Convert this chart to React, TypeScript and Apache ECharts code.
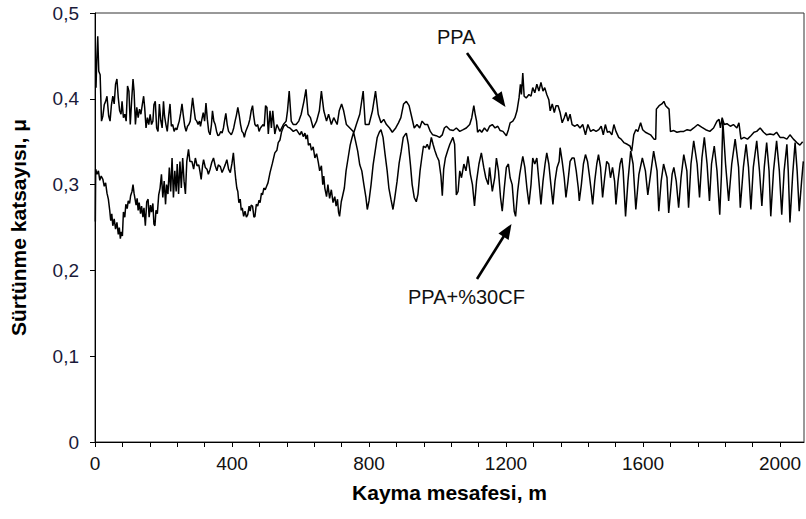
import React, { useEffect, useRef } from "react";
import * as echarts from "echarts";

// Sliding distance (m) and friction coefficient
const ppaPoints: [number, number][] = [
  [3, 0.413], [5, 0.444], [8, 0.473], [11, 0.432], [15, 0.428], [19, 0.374], [23, 0.380], [27, 0.393], [31, 0.397], [35, 0.403],
  [40, 0.380], [44, 0.374], [48, 0.393], [52, 0.403], [56, 0.394], [60, 0.417], [64, 0.423], [68, 0.401], [72, 0.386], [76, 0.382],
  [79, 0.397], [83, 0.378], [87, 0.382], [91, 0.374], [95, 0.415], [99, 0.409], [103, 0.370], [107, 0.398], [111, 0.423], [114, 0.409],
  [118, 0.370], [122, 0.390], [126, 0.378], [130, 0.388], [134, 0.382], [138, 0.393], [142, 0.403], [145, 0.390], [149, 0.366], [153, 0.378],
  [157, 0.370], [161, 0.382], [165, 0.370], [169, 0.374], [172, 0.393], [176, 0.397], [180, 0.366], [184, 0.362], [188, 0.394], [192, 0.375],
  [196, 0.366], [200, 0.397], [203, 0.380], [207, 0.370], [211, 0.362], [215, 0.380], [219, 0.394], [223, 0.368], [227, 0.370], [231, 0.362],
  [235, 0.366], [239, 0.364], [243, 0.370], [246, 0.374], [250, 0.383], [254, 0.394], [258, 0.380], [262, 0.368], [266, 0.362], [270, 0.368],
  [274, 0.370], [278, 0.374], [281, 0.386], [285, 0.401], [289, 0.388], [293, 0.376], [297, 0.374], [301, 0.370], [305, 0.374], [308, 0.368],
  [312, 0.376], [316, 0.384], [320, 0.374], [324, 0.395], [328, 0.376], [332, 0.362], [336, 0.358], [340, 0.370], [343, 0.386], [347, 0.374],
  [351, 0.370], [355, 0.362], [359, 0.357], [363, 0.358], [367, 0.362], [371, 0.360], [375, 0.366], [378, 0.374], [382, 0.383], [386, 0.370],
  [390, 0.362], [394, 0.360], [398, 0.358], [402, 0.362], [405, 0.366], [409, 0.374], [413, 0.381], [417, 0.390], [421, 0.381], [425, 0.370],
  [429, 0.362], [433, 0.360], [436, 0.355], [440, 0.362], [444, 0.366], [448, 0.370], [452, 0.376], [456, 0.386], [460, 0.392], [463, 0.381],
  [467, 0.370], [471, 0.368], [475, 0.370], [479, 0.362], [483, 0.366], [487, 0.368], [491, 0.370], [494, 0.368], [498, 0.392], [502, 0.390],
  [506, 0.359], [511, 0.386], [515, 0.366], [519, 0.386], [525, 0.359], [531, 0.370], [540, 0.362], [550, 0.370], [558, 0.374], [562, 0.386],
  [567, 0.409], [573, 0.374], [579, 0.370], [587, 0.370], [595, 0.374], [602, 0.382], [610, 0.397], [616, 0.411], [622, 0.382], [629, 0.378],
  [637, 0.366], [647, 0.374], [655, 0.386], [661, 0.409], [668, 0.386], [676, 0.374], [682, 0.382], [690, 0.370], [697, 0.378], [707, 0.370],
  [713, 0.386], [720, 0.394], [726, 0.386], [734, 0.370], [744, 0.366], [756, 0.361], [763, 0.370], [773, 0.382], [783, 0.409], [789, 0.370],
  [800, 0.370], [810, 0.386], [819, 0.409], [827, 0.382], [835, 0.372], [843, 0.376], [851, 0.370], [860, 0.366], [868, 0.361], [878, 0.366],
  [886, 0.372], [893, 0.378], [901, 0.394], [909, 0.397], [917, 0.392], [924, 0.380], [932, 0.366], [940, 0.370], [948, 0.366], [955, 0.374],
  [963, 0.370], [971, 0.370], [979, 0.362], [986, 0.358], [996, 0.357], [1006, 0.355], [1014, 0.358], [1020, 0.366], [1026, 0.368], [1036, 0.364],
  [1046, 0.363], [1055, 0.366], [1065, 0.362], [1075, 0.364], [1084, 0.366], [1094, 0.370], [1100, 0.378], [1106, 0.392], [1110, 0.382], [1114, 0.374],
  [1117, 0.361], [1123, 0.364], [1129, 0.361], [1137, 0.366], [1145, 0.362], [1152, 0.368], [1160, 0.370], [1168, 0.366], [1176, 0.368], [1183, 0.363],
  [1191, 0.362], [1201, 0.357], [1207, 0.364], [1212, 0.372], [1220, 0.374], [1226, 0.378], [1232, 0.386], [1238, 0.401], [1242, 0.417], [1245, 0.405],
  [1249, 0.430], [1253, 0.403], [1259, 0.401], [1267, 0.405], [1273, 0.403], [1278, 0.413], [1284, 0.407], [1290, 0.417], [1296, 0.409], [1302, 0.419],
  [1308, 0.409], [1313, 0.413], [1319, 0.405], [1325, 0.399], [1329, 0.386], [1335, 0.394], [1341, 0.384], [1346, 0.392], [1352, 0.392], [1358, 0.384],
  [1364, 0.372], [1370, 0.378], [1375, 0.384], [1381, 0.374], [1387, 0.382], [1393, 0.370], [1401, 0.368], [1408, 0.370], [1416, 0.366], [1424, 0.370],
  [1432, 0.358], [1439, 0.370], [1447, 0.362], [1455, 0.364], [1463, 0.362], [1471, 0.364], [1478, 0.368], [1484, 0.358], [1490, 0.370], [1496, 0.361],
  [1502, 0.362], [1509, 0.358], [1515, 0.370], [1521, 0.362], [1529, 0.355], [1536, 0.353], [1544, 0.349], [1554, 0.347], [1562, 0.345], [1567, 0.339],
  [1573, 0.358], [1579, 0.364], [1585, 0.362], [1593, 0.372], [1599, 0.364], [1607, 0.361], [1622, 0.358], [1632, 0.353], [1637, 0.353], [1639, 0.388],
  [1647, 0.392], [1655, 0.394], [1661, 0.397], [1666, 0.392], [1676, 0.388], [1680, 0.362], [1690, 0.363], [1699, 0.361], [1709, 0.362], [1719, 0.362],
  [1729, 0.364], [1738, 0.363], [1748, 0.366], [1760, 0.370], [1771, 0.367], [1783, 0.364], [1795, 0.362], [1806, 0.366], [1816, 0.374], [1822, 0.376],
  [1826, 0.366], [1831, 0.378], [1837, 0.370], [1845, 0.371], [1855, 0.368], [1864, 0.370], [1874, 0.366], [1880, 0.372], [1886, 0.353], [1895, 0.355],
  [1905, 0.353], [1915, 0.357], [1924, 0.361], [1932, 0.362], [1942, 0.366], [1952, 0.361], [1961, 0.358], [1971, 0.359], [1981, 0.358], [1990, 0.361],
  [2000, 0.355], [2010, 0.355], [2020, 0.353], [2029, 0.358], [2039, 0.353], [2049, 0.349], [2058, 0.346], [2066, 0.350],
];

const cfPoints: [number, number][] = [
  [1, 0.257], [2, 0.318], [6, 0.312], [10, 0.316], [14, 0.305], [18, 0.310], [23, 0.306], [27, 0.298], [31, 0.302], [35, 0.290],
  [39, 0.283], [43, 0.270], [46, 0.258], [49, 0.266], [52, 0.252], [56, 0.260], [60, 0.248], [64, 0.256], [68, 0.242], [71, 0.250],
  [74, 0.237], [77, 0.245], [80, 0.240], [83, 0.268], [87, 0.262], [90, 0.277], [94, 0.272], [97, 0.281], [101, 0.278], [104, 0.287],
  [108, 0.292], [111, 0.300], [114, 0.290], [117, 0.283], [120, 0.276], [123, 0.284], [126, 0.270], [129, 0.279], [133, 0.266], [136, 0.275],
  [140, 0.262], [143, 0.273], [147, 0.252], [151, 0.280], [155, 0.283], [158, 0.262], [162, 0.276], [165, 0.268], [169, 0.278], [172, 0.254],
  [175, 0.252], [178, 0.270], [182, 0.266], [186, 0.288], [190, 0.296], [194, 0.312], [198, 0.285], [202, 0.304], [206, 0.277], [209, 0.300],
  [213, 0.289], [217, 0.320], [221, 0.292], [225, 0.331], [229, 0.285], [233, 0.316], [237, 0.292], [240, 0.324], [244, 0.289], [248, 0.327],
  [252, 0.296], [256, 0.331], [260, 0.304], [264, 0.289], [268, 0.327], [273, 0.341], [277, 0.327], [283, 0.327], [288, 0.318], [293, 0.331],
  [298, 0.322], [303, 0.323], [307, 0.314], [310, 0.306], [314, 0.322], [317, 0.329], [322, 0.320], [327, 0.318], [331, 0.312], [336, 0.318],
  [341, 0.326], [346, 0.331], [351, 0.322], [356, 0.316], [360, 0.323], [366, 0.321], [371, 0.314], [375, 0.318], [380, 0.323], [385, 0.329],
  [390, 0.318], [395, 0.314], [400, 0.325], [404, 0.337], [408, 0.318], [411, 0.306], [414, 0.296], [417, 0.292], [420, 0.279], [424, 0.283],
  [427, 0.270], [430, 0.273], [434, 0.263], [438, 0.269], [442, 0.262], [446, 0.265], [450, 0.275], [453, 0.269], [456, 0.276], [460, 0.275],
  [464, 0.262], [467, 0.263], [471, 0.277], [475, 0.275], [479, 0.282], [482, 0.279], [486, 0.290], [489, 0.288], [493, 0.296], [497, 0.294],
  [501, 0.298], [505, 0.302], [511, 0.314], [518, 0.325], [525, 0.337], [531, 0.340], [535, 0.349], [540, 0.352], [545, 0.362], [551, 0.368],
  [557, 0.370], [563, 0.367], [569, 0.366], [579, 0.362], [588, 0.364], [598, 0.358], [603, 0.362], [608, 0.356], [613, 0.360], [616, 0.353],
  [620, 0.358], [623, 0.346], [628, 0.348], [632, 0.340], [637, 0.344], [642, 0.331], [647, 0.336], [652, 0.326], [656, 0.316], [661, 0.322],
  [665, 0.300], [668, 0.310], [671, 0.296], [676, 0.286], [680, 0.300], [685, 0.284], [690, 0.294], [695, 0.279], [700, 0.286], [704, 0.275],
  [708, 0.283], [711, 0.268], [714, 0.263], [719, 0.280], [723, 0.287], [728, 0.296], [733, 0.316], [739, 0.331], [745, 0.346], [750, 0.354],
  [755, 0.361], [761, 0.350], [767, 0.339], [773, 0.323], [779, 0.316], [785, 0.300], [791, 0.285], [795, 0.271], [800, 0.281], [806, 0.300],
  [812, 0.323], [818, 0.339], [824, 0.355], [830, 0.361], [835, 0.364], [841, 0.355], [847, 0.335], [853, 0.316], [858, 0.296], [864, 0.283],
  [870, 0.271], [875, 0.284], [882, 0.304], [888, 0.325], [894, 0.339], [900, 0.355], [905, 0.358], [909, 0.360], [915, 0.347], [921, 0.323],
  [926, 0.300], [932, 0.285], [938, 0.280], [943, 0.289], [949, 0.316], [954, 0.331], [959, 0.345], [965, 0.343], [970, 0.347], [976, 0.341],
  [982, 0.355], [987, 0.347], [992, 0.340], [998, 0.333], [1004, 0.328], [1010, 0.310], [1014, 0.287], [1018, 0.318], [1023, 0.331], [1030, 0.340],
  [1036, 0.347], [1045, 0.355], [1050, 0.347], [1055, 0.288], [1060, 0.292], [1065, 0.316], [1070, 0.308], [1077, 0.324], [1083, 0.316], [1089, 0.333],
  [1096, 0.312], [1102, 0.300], [1108, 0.275], [1114, 0.304], [1121, 0.324], [1128, 0.337], [1135, 0.320], [1141, 0.308], [1148, 0.300], [1152, 0.320],
  [1160, 0.292], [1167, 0.308], [1172, 0.331], [1178, 0.316], [1184, 0.285], [1189, 0.269], [1195, 0.296], [1201, 0.320], [1207, 0.324], [1212, 0.308],
  [1218, 0.300], [1224, 0.269], [1228, 0.263], [1234, 0.292], [1240, 0.312], [1245, 0.324], [1249, 0.333], [1255, 0.320], [1261, 0.296], [1267, 0.277],
  [1273, 0.300], [1278, 0.331], [1284, 0.324], [1290, 0.331], [1296, 0.304], [1302, 0.277], [1308, 0.304], [1314, 0.324], [1319, 0.337], [1325, 0.324],
  [1331, 0.300], [1337, 0.277], [1343, 0.304], [1349, 0.320], [1355, 0.327], [1358, 0.343], [1364, 0.327], [1370, 0.308], [1375, 0.285], [1381, 0.304],
  [1387, 0.327], [1393, 0.331], [1399, 0.331], [1405, 0.316], [1411, 0.296], [1414, 0.281], [1420, 0.300], [1426, 0.324], [1432, 0.335], [1438, 0.327],
  [1443, 0.312], [1449, 0.292], [1453, 0.277], [1459, 0.304], [1465, 0.324], [1470, 0.335], [1476, 0.320], [1482, 0.285], [1488, 0.308], [1494, 0.327],
  [1500, 0.324], [1505, 0.308], [1511, 0.320], [1517, 0.304], [1521, 0.277], [1527, 0.304], [1533, 0.324], [1538, 0.331], [1542, 0.316], [1549, 0.263],
  [1556, 0.304], [1564, 0.339], [1571, 0.324], [1579, 0.271], [1588, 0.312], [1598, 0.331], [1607, 0.316], [1614, 0.288], [1622, 0.312], [1631, 0.339],
  [1641, 0.316], [1646, 0.269], [1653, 0.304], [1660, 0.324], [1670, 0.308], [1675, 0.267], [1685, 0.312], [1690, 0.320], [1697, 0.304], [1704, 0.273],
  [1711, 0.308], [1719, 0.335], [1728, 0.316], [1733, 0.273], [1740, 0.324], [1748, 0.351], [1758, 0.324], [1765, 0.285], [1772, 0.331], [1779, 0.355],
  [1787, 0.324], [1794, 0.281], [1800, 0.324], [1808, 0.345], [1816, 0.316], [1824, 0.265], [1829, 0.312], [1833, 0.374], [1841, 0.324], [1850, 0.281],
  [1859, 0.324], [1869, 0.353], [1879, 0.320], [1884, 0.273], [1893, 0.320], [1901, 0.347], [1908, 0.320], [1915, 0.271], [1922, 0.320], [1932, 0.351],
  [1940, 0.316], [1947, 0.275], [1954, 0.320], [1961, 0.349], [1968, 0.316], [1973, 0.263], [1981, 0.316], [1990, 0.351], [1998, 0.316], [2005, 0.265],
  [2012, 0.316], [2020, 0.347], [2024, 0.316], [2029, 0.256], [2037, 0.312], [2044, 0.349], [2050, 0.316], [2056, 0.269], [2063, 0.304], [2068, 0.327],
];

const xTickLabels = ["0", "400", "800", "1200", "1600", "2000"];
const yTickLabels = ["0", "0,1", "0,2", "0,3", "0,4", "0,5"];
const xTitle = "Kayma mesafesi, m";
const yTitle = "Sürtünme katsayısı, μ";
const ppaLabel = "PPA";
const cfLabel = "PPA+%30CF";

const FONT = '"Liberation Sans", Arial, sans-serif';

function arrow(x1: number, y1: number, x2: number, y2: number, headLen: number, headHalf: number) {
  const dx = x2 - x1;
  const dy = y2 - y1;
  const len = Math.sqrt(dx * dx + dy * dy);
  const ux = dx / len;
  const uy = dy / len;
  const bx = x2 - ux * headLen;
  const by = y2 - uy * headLen;
  const px = -uy * headHalf;
  const py = ux * headHalf;
  return [
    {
      type: "line",
      shape: { x1, y1, x2: bx + ux * 2, y2: by + uy * 2 },
      style: { stroke: "#000", lineWidth: 2.6 },
      silent: true,
    },
    {
      type: "polygon",
      shape: { points: [[x2, y2], [bx + px, by + py], [bx - px, by - py]] },
      style: { fill: "#000" },
      silent: true,
    },
  ];
}

export default function App() {
  const ref = useRef<HTMLDivElement>(null);
  useEffect(() => {
    if (!ref.current) return;
    const chart = echarts.init(ref.current, undefined, { renderer: "svg" });
    chart.setOption({
      animation: false,
      backgroundColor: "#fff",
      grid: {
        left: 93,
        top: 13,
        width: 711,
        height: 429,
        show: true,
        borderColor: "#333",
        borderWidth: 1,
        backgroundColor: "transparent",
      },
      xAxis: {
        type: "value",
        min: 0,
        max: 2070,
        interval: 80,
        name: xTitle,
        nameLocation: "middle",
        nameGap: 40,
        nameTextStyle: { fontFamily: FONT, fontSize: 21, fontWeight: "bold", color: "#000" },
        axisLine: { show: true, lineStyle: { color: "#000", width: 1 } },
        axisTick: { show: true, inside: false, length: 5, lineStyle: { color: "#000" } },
        splitLine: { show: false },
        axisLabel: {
          fontFamily: FONT,
          fontSize: 19,
          color: "#111",
          margin: 12,
          showMaxLabel: false,
          formatter: (v: number) => {
            const i = Math.round(v / 400);
            return Math.abs(v - i * 400) < 1e-6 && i < xTickLabels.length ? xTickLabels[i] : "";
          },
        },
      },
      yAxis: {
        type: "value",
        min: 0,
        max: 0.5,
        interval: 0.1,
        name: yTitle,
        nameLocation: "middle",
        nameRotate: 90,
        nameGap: 66,
        nameTextStyle: { fontFamily: FONT, fontSize: 21, fontWeight: "bold", color: "#000" },
        axisLine: { show: true, lineStyle: { color: "#000", width: 1 } },
        axisTick: { show: true, inside: false, length: 5, lineStyle: { color: "#000" } },
        splitLine: { show: false },
        axisLabel: {
          fontFamily: FONT,
          fontSize: 19,
          color: "#1a1a3a",
          margin: 16,
          formatter: (v: number) => yTickLabels[Math.round(v * 10)] ?? "",
        },
      },
      series: [
        {
          name: ppaLabel,
          type: "line",
          data: ppaPoints,
          showSymbol: false,
          symbol: "none",
          lineStyle: { color: "#000", width: 1.5 },
          z: 3,
        },
        {
          name: cfLabel,
          type: "line",
          data: cfPoints,
          showSymbol: false,
          symbol: "none",
          lineStyle: { color: "#000", width: 1.5 },
          z: 3,
        },
      ],
      graphic: [
        {
          type: "text",
          left: 437,
          top: 27,
          style: { text: ppaLabel, fontFamily: FONT, fontSize: 20, fill: "#111" },
        },
        {
          type: "text",
          left: 408,
          top: 287,
          style: { text: cfLabel, fontFamily: FONT, fontSize: 20, fill: "#111" },
        },
        ...arrow(467, 53, 505.5, 107, 15, 6),
        ...arrow(477, 279, 511.5, 224, 15, 6),
      ],
    });
    return () => chart.dispose();
  }, []);
  return <div ref={ref} style={{ position: "fixed", left: 0, top: 0, width: 806, height: 519 }} />;
}
